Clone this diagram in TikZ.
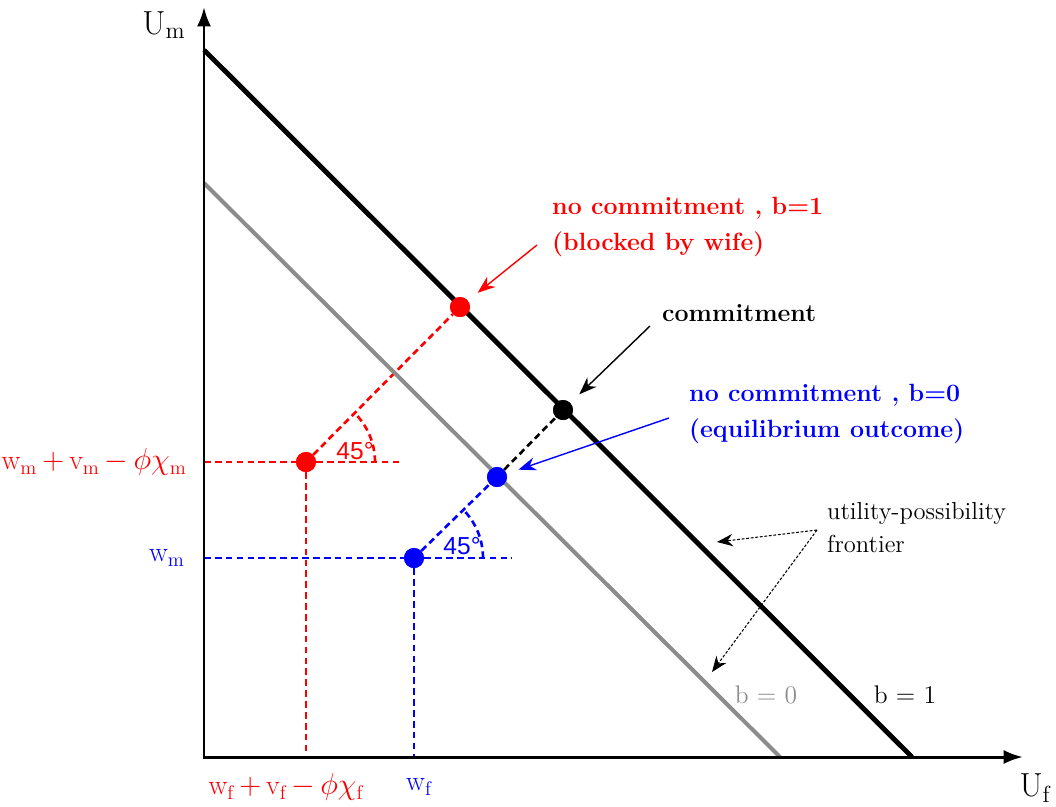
\documentclass[tikz,border=0pt]{standalone}
\usepackage{amsmath,amssymb}
\usepackage{fontspec}
\newfontfamily\degfont{Liberation Sans}
\usepackage{tikz}
\usetikzlibrary{arrows.meta}
\tikzset{
  ptdot/.style={circle,fill,inner sep=0pt,minimum size=0.4cm},
  guide/.style={line width=1.5pt,dash pattern=on 3.8pt off 2.4pt},
  callout/.style={line width=0.8pt,shorten >=7pt,-{Stealth[length=10pt,width=7.5pt]}},
  hint/.style={line width=0.6pt,dash pattern=on 1.6pt off 1pt,-{Stealth[length=9pt,width=7pt]}},
  boldlab/.style={font=\fontsize{14.2}{20.5}\selectfont\bfseries,anchor=west,align=left},
  mathlab/.style={font=\fontsize{16}{18}\selectfont},
  deglab/.style={font=\fontsize{14}{16}\selectfont\degfont},
}
\begin{document}
\begin{tikzpicture}[x=0.02cm,y=-0.02cm]
\useasboundingbox (0,0) rectangle (1056,806);
\coordinate (O) at (204,757);
\coordinate (ytop) at (204,7);
\coordinate (xend) at (1023,757);
\coordinate (b1top) at (204,50);
\coordinate (b1bot) at (912,757);
\coordinate (b0top) at (204,183);
\coordinate (b0bot) at (780,757);
\node[ptdot,red] (r2) at (306,462) {};
\node[ptdot,red] (nr) at (460,307) {};
\node[ptdot] (nc) at (563,410) {};
\node[ptdot,blue] (nb) at (497,477) {};
\node[ptdot,blue] (b2) at (414,558) {};
\coordinate (ym1) at (204,462);
\coordinate (rh) at (400,462);
\coordinate (xf1) at (306,757);
\coordinate (ym0) at (204,558);
\coordinate (bh) at (512,558);
\coordinate (xf0) at (414,757);
\draw[guide,red] (ym1) -- (r2) -- (rh);
\draw[guide,red] (r2) -- (xf1);
\draw[guide,red] (r2) -- (nr);
\draw[guide,red] (r2.center) ++(69,0) arc[start angle=0,end angle=-45,radius=69];
\draw[guide,blue] (ym0) -- (b2) -- (bh);
\draw[guide,blue] (b2) -- (xf0);
\draw[guide,blue] (b2) -- (nb);
\draw[guide,blue] (b2.center) ++(69,0) arc[start angle=0,end angle=-45,radius=69];
\draw[guide] (nb) -- (nc);
\draw[black!45,line width=2.3pt] (b0top) -- (b0bot);
\draw[line width=2.8pt] (b1top) -- (b1bot);
\draw[line width=1.7pt,{Latex[length=11pt,width=8pt]}-{Latex[length=11pt,width=8pt]}] (ytop) -- (O) -- (xend);
\node[ptdot,red] at (r2) {};
\node[ptdot,red] at (nr) {};
\node[ptdot] at (nc) {};
\node[ptdot,blue] at (nb) {};
\node[ptdot,blue] at (b2) {};
\node[font=\fontsize{19}{20}\selectfont] (um) at (164,25) {$\mathrm{U_m}$};
\node[font=\fontsize{19}{20}\selectfont] (uf) at (1035,788) {$\mathrm{U_f}$};
\node[mathlab,red,anchor=east] (lym1) at (193,462) {$\mathrm{w_m}\,{+}\,\mathrm{v_m}\,{-}\,\phi\chi_{\mathrm{m}}$};
\node[mathlab,blue,anchor=east] (lym0) at (191,558) {$\mathrm{w_m}$};
\node[mathlab,red] (lxf1) at (286,787) {$\mathrm{w_f}\,{+}\,\mathrm{v_f}\,{-}\,\phi\chi_{\mathrm{f}}$};
\node[mathlab,blue] (lxf0) at (419,787) {$\mathrm{w_f}$};
\node[deglab,red] (d1) at (355,451) {45°};
\node[deglab,blue] (d0) at (462,546) {45°};
\node[boldlab,red] (tnr) at (546,227) {no commitment , b=1\\(blocked by wife)};
\node[boldlab] (tnc) at (656,313) {commitment};
\node[boldlab,blue] (tnb) at (683,414) {no commitment , b=0\\(equilibrium outcome)};
\node[font=\fontsize{14}{18.7}\selectfont,anchor=west,align=left] (tupf) at (821,528) {utility-possibility\\frontier};
\node[font=\fontsize{14.5}{16}\selectfont,black!45] (tb0) at (766,695) {b = 0};
\node[font=\fontsize{14.5}{16}\selectfont] (tb1) at (905,695) {b = 1};
\coordinate (ar) at (537,245);
\coordinate (ac) at (650,326);
\coordinate (ab) at (669,418);
\coordinate (upf) at (817,530);
\coordinate (up1) at (717,542);
\coordinate (up0) at (712,672);
\draw[callout,red] (ar) -- (nr);
\draw[callout] (ac) -- (nc);
\draw[callout,blue] (ab) -- (nb);
\draw[hint] (upf) -- (up1);
\draw[hint] (upf) -- (up0);
\end{tikzpicture}
\end{document}
